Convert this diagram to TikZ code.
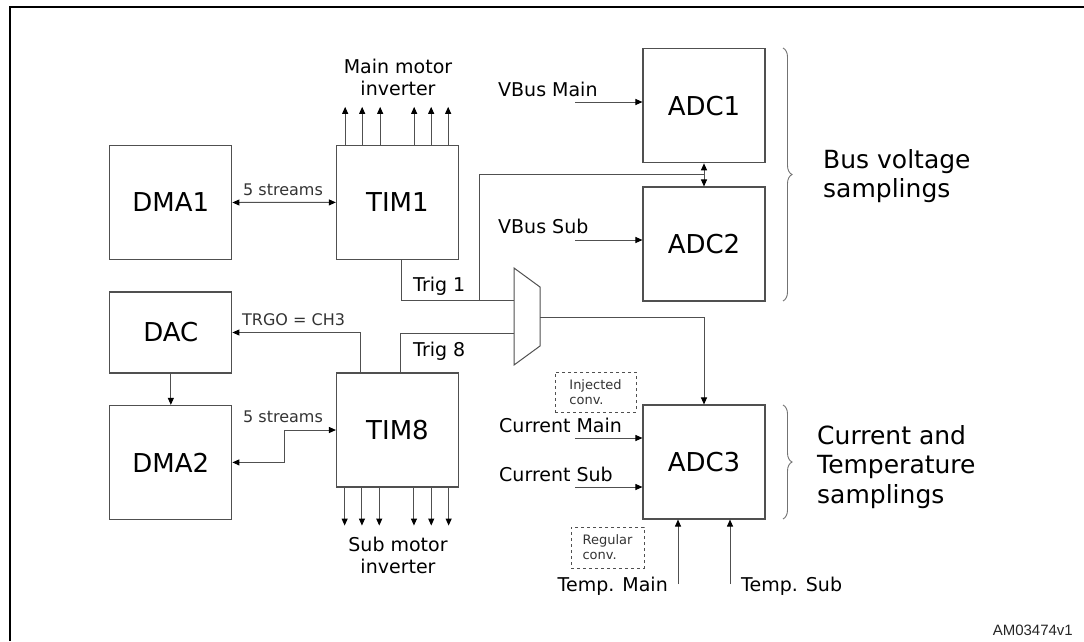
\documentclass[tikz,border=0pt]{standalone}
\usepackage{fontspec}
\setmainfont{DejaVu Sans}
\newfontfamily\arialf{Liberation Sans}
\usetikzlibrary{arrows.meta,calc,decorations.pathreplacing}
\definecolor{linec}{HTML}{505050}
\tikzset{
  box/.style={draw=linec, line width=1.1pt, inner sep=0pt, minimum width=122pt, minimum height=114pt, font=\fontsize{26}{30}\selectfont},
  lbl/.style={inner sep=0pt, font=\fontsize{19}{22}\selectfont},
  small/.style={inner sep=0pt, font=\fontsize{16}{19}\selectfont, text=black!80},
  conn/.style={draw=linec, line width=1pt},
  tip/.tip={Triangle[length=7pt,width=6pt,color=black]},
  arr/.style={conn, -tip},
  darr/.style={conn, tip-tip},
  dbox/.style={draw=linec, dashed, line width=0.9pt, inner sep=0pt, align=left, font=\fontsize{13}{15}\selectfont, text=black!80},
  brc/.style={draw=linec!80, line width=0.9pt, decorate, decoration={brace, amplitude=9pt}},
}
\begin{document}
\begin{tikzpicture}[x=1pt,y=-1pt]
\useasboundingbox (0,0) rectangle (1084,641);
% frame
\draw[line width=2pt] (10,641) -- (10,7) -- (1084,7);

% boxes
\node[box] (DMA1) at (170.85,202.5) {DMA1};
\node[box] (TIM1) at (397.4,202.4) {TIM1};
\node[box, minimum height=81pt] (DAC) at (170.85,332.5) {DAC};
\node[box] (DMA2) at (170.85,462.4) {DMA2};
\node[box] (TIM8) at (397.5,430) {TIM8};
\node[box] (ADC1) at (704,105.75) {ADC1};
\node[box] (ADC2) at (704,244) {ADC2};
\node[box] (ADC3) at (704,462) {ADC3};

% mux
\draw[conn, fill=white] (514,268) -- (540,287) -- (540,346) -- (514,365) -- cycle;
\coordinate (muxin1) at (514,300);
\coordinate (muxin2) at (514,333);
\coordinate (muxout) at (540,317);

% DMA1 <-> TIM1
\draw[darr] (DMA1.east) -- (TIM1.west);
\node[small, anchor=base west] (s1) at (243,195) {5 streams};

% TIM1 outputs
\foreach \dx in {9.3,26.3,44.3,78.3,95.3,112.3}
  \draw[arr] ($(TIM1.north west)+(\dx,0)$) -- ++(0,-38);
\node[lbl, align=center] (mmi) at (398,77) {Main motor\\inverter};

% TIM8 outputs
\foreach \dx in {8.7,26,43.3,78,95.3,112.7}
  \draw[arr] ($(TIM8.south west)+(\dx,0)$) -- ++(0,38);
\node[lbl, align=center] (smi) at (398,555) {Sub motor\\inverter};

% Trig 1
\coordinate (t1a) at ($(TIM1.south west)+(65.3,0)$);
\coordinate (j1) at (479,300);
\coordinate (sp) at (704,174);
\draw[conn] (t1a) |- (muxin1);
\draw[conn] (j1) |- (sp);
\draw[arr] (sp) -- (sp |- ADC1.south);
\draw[arr] (sp) -- (sp |- ADC2.north);
\node[lbl, anchor=base west] (tr1) at (413,291) {Trig 1};

% Trig 8
\coordinate (t8a) at ($(TIM8.north west)+(64.7,0)$);
\draw[conn] (t8a) |- (muxin2);
\node[lbl, anchor=base west] (tr8) at (413,356) {Trig 8};

% TRGO
\coordinate (tga) at ($(TIM8.north west)+(24.7,0)$);
\draw[arr] (tga) |- (DAC.east);
\node[small, anchor=base west] (trgo) at (242,325) {TRGO = CH3};

% DAC -> DMA2
\draw[arr] (DAC.south) -- (DMA2.north);

% TIM8 <-> DMA2
\coordinate (bend) at (284,430);
\draw[darr] (TIM8.west) -- (bend) |- (DMA2.east);
\node[small, anchor=base west] (s2) at (243,422) {5 streams};

% mux out -> ADC3
\draw[arr] (muxout) -| (ADC3.north);

% ADC inputs
\coordinate (vm) at (575,102);
\draw[arr] (vm) -- (vm -| ADC1.west);
\node[lbl, anchor=base west] (vml) at (498,96) {VBus Main};
\coordinate (vs) at (575,240);
\draw[arr] (vs) -- (vs -| ADC2.west);
\node[lbl, anchor=base west] (vsl) at (498,233) {VBus Sub};
\coordinate (cm) at (575,438);
\draw[arr] (cm) -- (cm -| ADC3.west);
\node[lbl, anchor=base west] (cml) at (499,432) {Current Main};
\coordinate (cs) at (575,487);
\draw[arr] (cs) -- (cs -| ADC3.west);
\node[lbl, anchor=base west] (csl) at (499,481) {Current Sub};
\coordinate (tm) at (678,584);
\draw[arr] (tm) -- (tm |- ADC3.south);
\node[lbl, anchor=base east] (tml) at (668,591) {Temp. Main};
\coordinate (ts) at (730,584);
\draw[arr] (ts) -- (ts |- ADC3.south);
\node[lbl, anchor=base west] (tsl) at (741,591) {Temp. Sub};

% dashed notes
\node[dbox, minimum width=81pt, minimum height=40pt] (inj) at (595.5,392) {Injected\\conv.};
\node[dbox, minimum width=73pt, minimum height=41pt] (reg) at (607.5,547.5) {Regular\\conv.};

% braces
\draw[brc] (783,48) -- (783,301);
\draw[brc] (783,405) -- (783,519);
\node[inner sep=0pt, anchor=west, align=left, font=\fontsize{25}{29}\selectfont] (bv) at (823,176) {Bus voltage\\samplings};
\node[inner sep=0pt, anchor=west, align=left, font=\fontsize{25}{29.5}\selectfont] (ct) at (817,467) {Current and\\Temperature\\samplings};

% id
\node[inner sep=0pt, anchor=base east, font=\arialf\fontsize{15}{18}\selectfont, text=black!85] (id) at (1073,635) {AM03474v1};
\end{tikzpicture}
\end{document}
